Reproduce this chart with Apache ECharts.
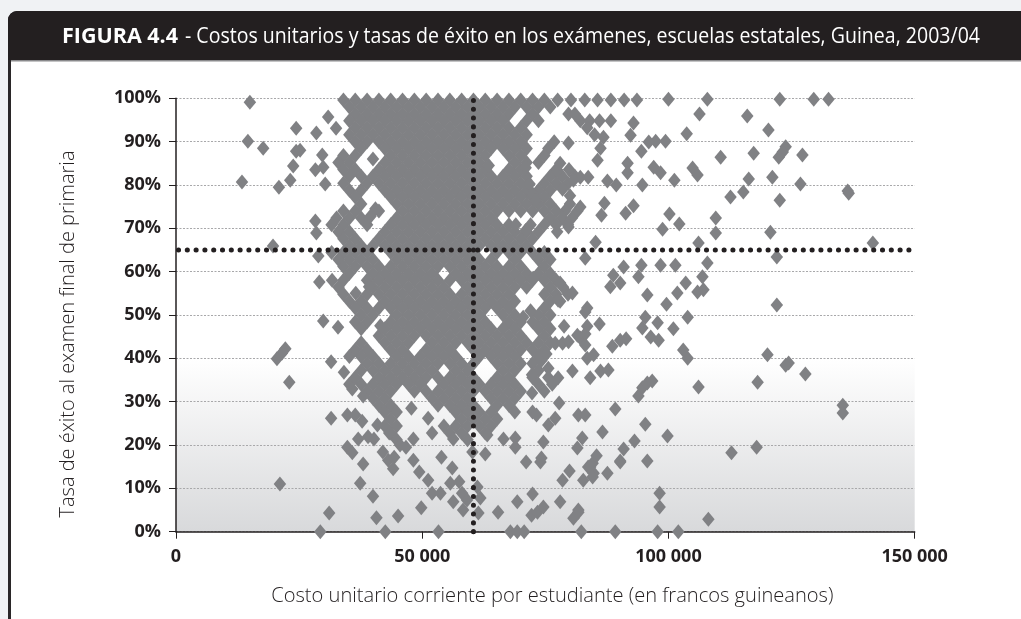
<!DOCTYPE html>
<html lang="es"><head><meta charset="utf-8">
<style>html,body{margin:0;padding:0;background:#f0f2f4;overflow:hidden}#c{width:1021px;height:619px}</style>
<script src="https://cdn.jsdelivr.net/npm/echarts@6/dist/echarts.min.js"></script>
</head><body><div id="c"></div>
<script>
const titleBold='FIGURA 4.4';
const titleRest='- Costos unitarios y tasas de éxito en los exámenes, escuelas estatales, Guinea, 2003/04';
const xTicks=[0,50,100,150];
const meanCost=60.4, meanRate=65;
// Each row: [rate %, [unit costs in thousand francs]]
const upperBand=[
[99.6,[34,36.4,38.8,41.2,43.6,46,48.4,50.8,53.2,55.6,58,60.4,62.8,65.2,67.6,70,72.4,74.8,77.5,80.2,83,85.6,88.3,91,93.6]],
[98,[35.2,37.6,40,42.4,44.8,47.2,49.6,52,54.4,56.8,59.2,61.6,64,66.4,68.8,71.2,73.6,76]],
[96.4,[36.4,38.8,41.2,43.6,46,48.4,50.8,53.2,55.6,58,60.4,62.8,65.2,67.6,72.4,79.7,81]],
[94.8,[35.2,37.6,40,42.4,44.8,47.2,49.6,52,54.4,56.8,59.2,61.6,64,66.4,71.2,73.6,82.1,84,86,88.3]],
[93.2,[36.4,38.8,41.2,43.6,46,48.4,50.8,53.2,55.6,58,60.4,62.8,65.2,67.6,70,83.5]],
[91.6,[35.2,37.6,40,42.4,44.8,47.2,49.6,52,54.4,56.8,59.2,61.6,64,66.4,68.8,71.2,85]],
[90,[36.4,38.8,41.2,43.6,46,48.4,50.8,53.2,55.6,58,60.4,62.8,65.2,67.6,70,76.8]],
[88.4,[37.6,42.4,44.8,47.2,49.6,52,54.4,56.8,59.2,61.6,64,66.4,68.8,71.2,75.6]],
[86.8,[34,36.4,43.6,46,48.4,50.8,53.2,55.6,58,60.4,62.8,67.6,70,74.8]],
[85.2,[33,35.2,42.4,44.8,47.2,49.6,52,54.4,56.8,59.2,61.6,68.8,71.2,73.6]],
[83.6,[34,36.4,41.2,43.6,46,48.4,50.8,53.2,55.6,58,60.4,62.8,67.6,70,77.2,79.8]],
[82,[35.2,37.6,40,42.4,44.8,47.2,49.6,52,54.4,56.8,59.2,61.6,64,66.4,68.8,71.2,76,78.4,81]],
[80.4,[34,38.8,41.2,43.6,46,48.4,50.8,53.2,55.6,58,60.4,62.8,65.2,67.6,70,74.8,77.2,79.6]],
[78.8,[35.2,37.6,42.4,44.8,47.2,49.6,52,54.4,56.8,59.2,61.6,64,66.4,68.8,71.2,73.6,76]],
[77.2,[36.4,43.6,46,48.4,50.8,53.2,55.6,58,60.4,62.8,65.2,67.6,70,72.4,74.8]],
[75.6,[37.6,44.8,47.2,49.6,52,54.4,56.8,59.2,61.6,64,66.4,68.8,71.2,73.6,76,80]],
[74,[34,36.4,41.2,46,48.4,50.8,53.2,55.6,58,60.4,62.8,65.2,67.6,70,72.4,74.8,77.2,79,81.5]],
[72.4,[32.6,35.2,37.6,44.8,47.2,49.6,52,54.4,56.8,59.2,61.6,64,76,78.4,80.4]],
[70.8,[31.6,34,38.8,43.6,46,48.4,50.8,53.2,55.6,58,60.4,62.8,65.2,67.6,74.8,77.2,79.6]],
[69.2,[33,35.2,42.4,44.8,47.2,49.6,52,54.4,56.8,59.2,61.6,64,66.4,68.8,71.2,73.6,77.4]],
[67.6,[34,36.4,41.2,43.6,46,48.4,50.8,53.2,55.6,58,60.4,62.8,65.2,67.6,70,72.4]],
[66,[35.2,37.6,40,42.4,44.8,47.2,49.6,52,54.4,56.8,59.2,61.6,64,66.4,68.8,71.2]]
];
const middleBand=[
[64.4,[31.6,34,36.4,38.8,43.6,46,48.4,50.8,53.2,55.6,58,60.4,65.2,67.6,70,72.4,74.8]],
[62.8,[33,35.2,37.6,40,44.8,47.2,49.6,52,54.4,56.8,59.2,61.6,64,68.8,73.6,76]],
[61.2,[34,36.4,38.8,41.2,43.6,46,48.4,50.8,53.2,55.6,58,60.4,62.8,65.2,67.6,70,74.8]],
[59.6,[35.2,40,42.4,44.8,47.2,49.6,52,56.8,59.2,61.6,64,66.4,68.8,71.2,73.6,76]],
[58,[31.7,34,38.8,41.2,43.6,46,48.4,50.8,53.2,55.6,58,60.4,62.8,65.2,67.6,70,72.4,74.8,77.2]],
[56.4,[33,40,42.4,44.8,47.2,49.6,52,54.4,59.2,61.6,64,66.4,68.8,71.2,76,78.6]],
[54.8,[34,38.8,41.2,43.6,46,48.4,50.8,53.2,55.6,58,60.4,62.8,65.2,67.6,74.8,77.2,79.6]],
[53.2,[35.2,37.6,42.4,44.8,47.2,49.6,52,54.4,56.8,59.2,61.6,64,66.4,68.8,76,78]],
[51.6,[36.4,38.8,41.2,43.6,46,48.4,50.8,53.2,55.6,58,60.4,62.8,65.2,67.6,74.8]],
[50,[37.6,40,44.8,47.2,49.6,52,54.4,56.8,59.2,61.6,66.4,68.8,73.6,76]],
[48.4,[36.4,38.8,43.6,46,48.4,50.8,53.2,55.6,58,60.4,62.8,67.6,70,72.4,74.8]],
[46.8,[37.6,42.4,44.8,47.2,49.6,52,54.4,56.8,59.2,61.6,64,66.4,68.8,73.6,76]],
[45.2,[41.2,43.6,46,48.4,50.8,53.2,55.6,58,60.4,62.8,65.2,67.6,70,74.8]],
[43.6,[37.6,42.4,44.8,47.2,52,54.4,56.8,59.2,61.6,64,66.4,68.8,71.2,73.6,76]],
[42,[36.4,38.8,43.6,46,50.8,53.2,55.6,60.4,62.8,65.2,67.6,70,72.4,74.8]],
[40.4,[35.2,37.6,40,44.8,47.2,49.6,52,54.4,56.8,61.6,64,66.4,68.8,73.6]],
[38.8,[38.8,41.2,43.6,46,48.4,50.8,53.2,55.6,58,60.4,65.2,67.6,70,72.4]],
[37.2,[37.6,40,42.4,44.8,47.2,49.6,52,56.8,59.2,66.4,68.8,73.6]],
[35.6,[36.4,41.2,43.6,46,48.4,50.8,53.2,55.6,58,60.4,65.2,67.6,72.4,75.6]],
[34,[35.2,37.6,40,42.4,44.8,47.2,49.6,54.4,56.8,59.2,61.6,64,66.4,68.8,73.6]],
[32.4,[38.8,41.2,43.6,48.4,50.8,53.2,55.6,58,60.4,62.8,65.2,67.6,70,74.8]],
[30.8,[40,42.4,52,54.4,56.8,59.2,64,66.4,68.8]],
[29.2,[41.2,43.6,53.2,55.6,58,60.4,65.2,67.6]],
[27.6,[42.4,44.8,56.8,59.2,61.6,64,68.8]],
[26,[43.6,58,60.4,62.8,65.2]],
[24.4,[42.4,44.8,54.4,56.8,59.2,61.6,64]],
[22.8,[43.6,55.6,58,62.8]],
[21.2,[44.8,59.2]]
];
const extraDensePoints=[[71,84],[71.8,80.2],[72.4,78],[73,76.4],[78.5,79],[80,77.5],[69,70.8],[72,70.8],[71,69.5],[40.5,74.5],[39.5,72.8],[40,86],[63.5,84.5],[39.2,56.5],[36.5,55],[41.5,47.5],[72.5,58.5],[72,51],[70.5,49.5]];
const leftPoints=[[15,99.1],[14.6,90.1],[17.7,88.5],[13.4,80.7],[20.9,79.5],[23.2,81.1],[23.8,84.4],[24.4,93.1],[24.4,87.8],[25.2,88],[28.5,92],[30.9,95.7],[32.5,93.1],[29.7,86.9],[29.9,84.1],[28.3,83.5],[30.3,80.2],[19.7,65.9],[28.3,71.7],[28.5,68.9],[28.9,63.6],[29.1,57.6],[29.9,48.6],[32.9,47.2],[22.2,42.2],[21.5,41.2],[20.5,39.9],[23,34.5],[31.5,39.2],[34.1,36.8],[35.8,32.9],[38,31.3],[31.5,26.2],[34.8,26.9],[36.4,26.9],[37.8,25.5],[40.9,24.6],[37,21.4],[39,21.9],[40.2,21.4],[34.8,19.5],[35.8,18.2],[38,15.6],[42,18.4],[43.1,16.5],[44.3,17.2],[44.1,14.5],[43.3,22.8],[45.5,20],[46.7,19.5],[48.2,21.4],[48.2,16.5],[49.4,13.8]];
const bottomPoints=[[53.9,17.2],[56.1,14.7],[51.2,11.9],[52,8.9],[53.7,8.9],[55.7,11.2],[57.5,11.5],[56.3,6.9],[58.3,5],[58.1,8.9],[59.1,7.3],[61.8,7.8],[61.2,10.3],[61.4,4.3],[65.4,4.5],[49.8,5.5],[45.1,3.6],[40.7,3.2],[40,8.2],[37.4,11.2],[21.1,11],[31.1,4.3],[29.3,0],[42.5,0],[53.3,0],[47.8,28.5],[51.2,26.2],[52,22.8],[56.3,21.4],[62.8,17.9],[63.2,22.3],[66.5,21.4],[60.2,18.4],[67.9,0],[69.3,0],[70.7,0],[82.3,0],[89.2,0],[69.3,6.9],[72.4,8.7],[72.2,3.8],[73.4,4.5],[74.6,5.7],[78,6.9],[78.5,11.9],[79.9,14],[81.7,4.5],[80.7,3.1],[82.7,11.9],[83.7,14.9],[84.8,13.5],[84.6,15.8],[87.6,13.5],[90.2,16.1],[71.1,16.1],[74,16.1],[74.2,17],[74.6,20.7],[68.9,21.6],[68.9,19.5],[77.8,29.7],[72.4,27.6],[73.2,26.9],[77,26.2],[75.6,24.6],[81.7,26.9],[83.1,26.9],[89.2,28.3],[86.6,23],[95.3,24.8],[99.8,22.1],[93.1,20.9],[90.9,19.1],[90.2,16.3],[95.7,16.3],[85.4,17.5],[84.1,14.9],[82.5,21.6],[81.5,19.3],[84.6,12.6],[81.7,5],[97.8,0],[102,0],[108.1,2.9],[98.2,5.7],[98.2,8.9]];
const rightLowPoints=[[112.8,18.2],[117.9,19.5],[106.1,33.4],[118.1,34.5],[127.8,36.4],[124.4,38.9],[123.8,38.4],[120.1,40.8],[135.4,29.2],[135.4,27.4],[93.9,31.3],[94.7,33.2],[95.7,34.3],[96.7,34.8],[103.9,40],[103,41.9],[77.6,35.5],[80.5,37.1],[84.1,35.5],[86.2,37.1],[87.8,37.3],[83.5,40],[84.8,40.8],[82.1,44.7],[83.1,43.1],[77,43.5],[78.5,43.5],[79.7,43.8],[88.6,42.8],[90.2,44.2],[86,47.9],[94.7,47],[95.3,49.5],[97.8,48.2],[101,46.8],[103.9,49.5],[83.1,50.7],[83.1,45.6],[83.5,47.4],[78.8,47.4],[81.5,45.3],[91.4,44.5],[96.4,44.9],[98,44.2],[74.2,39.5],[75.6,37.7],[75.2,41],[76.4,34],[72.3,36.2],[72.3,32]];
const rightHighPoints=[[100,99.8],[107.9,99.8],[122.6,99.8],[129.5,99.8],[132.5,99.8],[106.3,96.4],[116,95.9],[120.3,92.7],[103.7,91.8],[97.4,90.1],[96,89.9],[99.4,90.1],[94.5,87.8],[110.6,86.4],[117.3,87.3],[123.8,88.8],[123.2,87.6],[122.4,86.4],[127.2,86.9],[97,84.1],[98.4,82.8],[104.9,83.9],[105.9,82.3],[101.2,81.1],[94.7,80],[116.3,81.4],[121.1,81.8],[126.8,80.2],[112.6,77.2],[115.2,78.4],[122.6,76.5],[136.4,78.6],[136.6,78.1],[100.2,73.3],[102.2,71],[98.8,69.8],[109.6,72.4],[109.6,68.9],[120.7,69.1],[106.1,66.6],[141.5,66.6],[85.2,66.8],[83.1,63.1],[122,63.4],[94.5,61.5],[98.4,61.5],[101.4,61.5],[107.9,62],[106.9,58.8],[107.1,55.8],[105.9,55.3],[103.5,57.4],[101.8,55.1],[95.7,54.6],[99.6,52.5],[122,52.3],[90.9,61.1],[93.9,58.8],[88.8,59.2],[88.2,56.5],[90.2,57.4],[80.5,55.1],[78,57.4],[83.5,51.6],[77.6,53.4],[86.8,91],[85.6,85.7],[86.2,88.5],[92.9,94.3],[92.3,91.5],[79.7,89.7],[87.6,80.9],[89.4,80],[91.7,85],[91.7,82.8],[87,75.8],[86.4,73],[91.3,73.5],[92.9,75.2],[82.1,81.8],[83.7,81.8],[80.7,81.1],[77.4,83.4],[78,85],[82.1,74.9],[79.7,70.3]];
const scatterData=[...upperBand,...middleBand].flatMap(([rate,costs])=>costs.map(c=>[c,rate])).concat(extraDensePoints,leftPoints,bottomPoints,rightLowPoints,rightHighPoints);
const dotStyle={color:'#231f20',width:5,type:[0.1,8.7],cap:'round'};
const ctx=document.createElement('canvas').getContext('2d');
function fitScale(text,font,w){ctx.font=font;return w/ctx.measureText(text).width;}
const boldScale=fitScale(titleBold,'bold 21px "Open Sans"',116);
const restScale=fitScale(titleRest,'21px "Open Sans"',795);
const chart=echarts.init(document.getElementById('c'),null,{renderer:'canvas'});
chart.setOption({
 animation:false,
 backgroundColor:'#f0f2f4',
 graphic:[
  {type:'rect',z:-10,shape:{x:8,y:11,width:1013,height:608,r:[9,0,0,0]},style:{fill:'#2a2728'}},
  {type:'rect',z:-9,shape:{x:11,y:61,width:1010,height:558},style:{fill:'#ffffff'}},
  {type:'rect',z:-9,shape:{x:11,y:60,width:1010,height:1.5},style:{fill:'#8a8a8c'}},
  {type:'rect',z:-9,shape:{x:8,y:11,width:1013,height:49,r:[9,0,0,0]},style:{fill:'#231f20'}},
  {type:'text',z:10,x:62,y:37,scaleX:boldScale,style:{text:titleBold,fontFamily:'Open Sans',fontWeight:'bold',fontSize:21,fill:'#fff',verticalAlign:'middle'}},
  {type:'text',z:10,x:185,y:37,scaleX:restScale,style:{text:titleRest,fontFamily:'Open Sans',fontSize:21,fill:'#fff',verticalAlign:'middle'}}
 ],
 grid:{left:176,width:738.7,top:98.3,height:433.4,show:true,borderWidth:0,
  backgroundColor:new echarts.graphic.LinearGradient(0,0,0,1,[{offset:0,color:'#fff'},{offset:0.6,color:'#fff'},{offset:1,color:'#d8d9db'}])},
 xAxis:{type:'value',min:0,max:150,interval:50,
  axisLine:{lineStyle:{color:'#231f20',width:1.5}},
  axisTick:{show:true,length:7,inside:false,lineStyle:{color:'#231f20',width:1}},
  splitLine:{show:false},
  axisLabel:{margin:16,color:'#231f20',fontFamily:'Open Sans',fontWeight:'bold',fontSize:18,
   formatter:v=>v===0?'0':v+' 000',customValues:xTicks},
  name:'Costo unitario corriente por estudiante (en francos guineanos)',nameLocation:'middle',nameGap:55,
  nameTextStyle:{fontFamily:'Open Sans',fontSize:20.1,fontWeight:300,color:'#231f20',padding:[0,0,0,14]}},
 yAxis:{type:'value',min:0,max:100,interval:10,
  axisLine:{show:true,lineStyle:{color:'#231f20',width:1.5}},
  axisTick:{show:true,length:7,lineStyle:{color:'#231f20',width:1}},
  splitLine:{show:true,lineStyle:{color:'#a8a8aa',width:1,type:[2,1.5]}},
  axisLabel:{margin:15,color:'#231f20',fontFamily:'Open Sans',fontWeight:'bold',fontSize:18,formatter:v=>v+'%'},
  name:'Tasa de éxito al examen final de primaria',nameLocation:'middle',nameGap:98,
  nameTextStyle:{fontFamily:'Open Sans',fontSize:20,fontWeight:300,color:'#231f20',padding:[0,38,0,0]}},
 series:[
  {type:'scatter',name:'Escuelas',data:scatterData,symbol:'diamond',symbolSize:[12.5,15],clip:false,z:3,
   itemStyle:{color:'#808184',opacity:1}},
  {type:'line',name:'Costo medio',data:[[meanCost,0],[meanCost,101]],symbol:'none',clip:false,z:5,lineStyle:dotStyle},
  {type:'line',name:'Tasa media',data:[[0.5,meanRate],[149.5,meanRate]],symbol:'none',clip:false,z:5,lineStyle:dotStyle}
 ]
});
</script></body></html>
